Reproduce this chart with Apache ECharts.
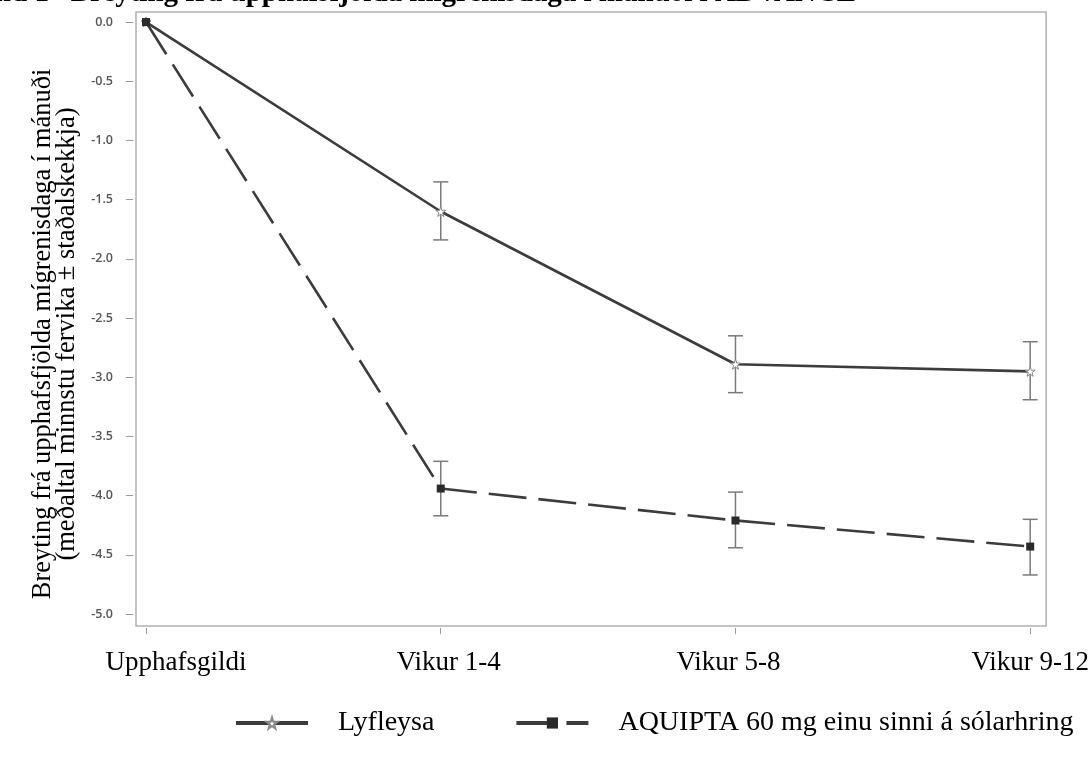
<!DOCTYPE html>
<html>
<head>
<meta charset="utf-8">
<script src="https://cdn.jsdelivr.net/npm/echarts@6/dist/echarts.min.js"></script>
<style>html,body{margin:0;padding:0;background:#fff}#c{width:1092px;height:762px}</style>
</head>
<body>
<div id="c"></div>
<script>
const categories = ['Upphafsgildi', 'Vikur 1-4', 'Vikur 5-8', 'Vikur 9-12'];
const placeboMean = [0.0, -1.60, -2.89, -2.95];
const placeboLow = [null, -1.84, -3.13, -3.19];
const placeboHigh = [null, -1.35, -2.65, -2.70];
const aquiptaMean = [0.0, -3.94, -4.21, -4.43];
const aquiptaLow = [null, -4.17, -4.44, -4.67];
const aquiptaHigh = [null, -3.71, -3.97, -4.20];
const yTicks = [0, -0.5, -1, -1.5, -2, -2.5, -3, -3.5, -4, -4.5, -5];
const seriesNames = ['Lyfleysa', 'AQUIPTA 60 mg einu sinni á sólarhring'];
const titleText = 'Mynd 1   Breyting frá upphafsfjölda mígrenisdaga í mánuði í ADVANCE';

const chart = echarts.init(document.getElementById('c'));
const serif = '"Liberation Serif", "Times New Roman", serif';
const star = 'path://M50,0 L61,35 L98,35 L68,57 L79,91 L50,70 L21,91 L32,57 L2,35 L39,35 Z';

function pts(mean) { return mean.map((v, i) => [i, v]); }
function bars(lo, hi) {
  const out = [];
  lo.forEach((v, i) => { if (v !== null) out.push([i, lo[i], hi[i]]); });
  return out;
}
function errRender(params, api) {
  const x = api.value(0);
  const a = api.coord([x, api.value(1)]);
  const b = api.coord([x, api.value(2)]);
  const w = 7.5;
  const st = { stroke: '#7a7a7a', lineWidth: 1.5 };
  return {
    type: 'group',
    children: [
      { type: 'line', shape: { x1: a[0], y1: a[1], x2: b[0], y2: b[1] }, style: st },
      { type: 'line', shape: { x1: a[0] - w, y1: a[1], x2: a[0] + w, y2: a[1] }, style: st },
      { type: 'line', shape: { x1: b[0] - w, y1: b[1], x2: b[0] + w, y2: b[1] }, style: st }
    ]
  };
}

const labelShift = ['a', 'b', 'c', 'd'];
const lbl = { fontFamily: serif, fontSize: 27, color: '#000' };
const option = {
  backgroundColor: '#fff',
  animation: false,
  graphic: [{
    type: 'text', left: -47, top: -21,
    style: { text: titleText, font: 'bold 29px ' + serif, fill: '#000' }
  }],
  grid: { left: 136, right: 43, top: 12, bottom: 136, show: true, borderColor: '#b0b0b0', borderWidth: 1.5 },
  xAxis: {
    type: 'value', min: -0.034, max: 3.054,
    axisLine: { show: false, onZero: false }, splitLine: { show: false },
    offset: 2,
    axisTick: { show: true, length: 6, customValues: [0, 1, 2, 3], lineStyle: { color: '#999', width: 1 } },
    axisLabel: {
      customValues: [0, 1, 2, 3], margin: 21,
      formatter: function (v) { const i = Math.round(v); return '{' + labelShift[i] + '|' + categories[i] + '}'; },
      rich: {
        a: Object.assign({ padding: [0, 0, 0, 60] }, lbl),
        b: Object.assign({ padding: [0, 0, 0, 16] }, lbl),
        c: Object.assign({ padding: [0, 14, 0, 0] }, lbl),
        d: Object.assign({ padding: [0, 0, 0, 0] }, lbl)
      }
    }
  },
  yAxis: {
    type: 'value', min: -5.101, max: 0.085,
    offset: 3,
    axisLine: { show: false, onZero: false }, splitLine: { show: false },
    axisTick: { show: true, length: 7, customValues: yTicks, lineStyle: { color: '#999', width: 1 } },
    axisLabel: {
      customValues: yTicks, margin: 20,
      formatter: v => v.toFixed(1),
      fontFamily: '"Open Sans", sans-serif', fontWeight: 600, fontSize: 12.5, color: '#555'
    },
    name: 'Breyting frá upphafsfjölda mígrenisdaga í mánuði\n(meðaltal minnstu fervika ± staðalskekkja)',
    nameLocation: 'middle', nameGap: 54,
    nameTextStyle: { fontFamily: serif, fontSize: 26.5, color: '#000', lineHeight: 24, padding: [0, 30, 0, 0] }
  },
  legend: {
    left: 229, top: 704, itemWidth: 72, itemHeight: 14, itemGap: 80,
    data: seriesNames,
    lineStyle: { width: 4 },
    textStyle: { fontFamily: serif, fontSize: 28, color: '#000', padding: [0, 0, 0, 25] }
  },
  series: [
    { type: 'custom', renderItem: errRender, data: bars(placeboLow, placeboHigh), z: 1, silent: true },
    { type: 'custom', renderItem: errRender, data: bars(aquiptaLow, aquiptaHigh), z: 1, silent: true },
    {
      name: seriesNames[0], type: 'line', data: pts(placeboMean), z: 3,
      symbol: star, symbolSize: 10, showAllSymbol: true,
      lineStyle: { color: '#3c3c3c', width: 2.6 },
      itemStyle: { color: '#fff', borderColor: '#888', borderWidth: 1 }
    },
    {
      name: seriesNames[1], type: 'line', data: pts(aquiptaMean), z: 4,
      symbol: 'rect', symbolSize: 8,
      lineStyle: { color: '#3c3c3c', width: 2.6, type: [38, 12] },
      itemStyle: { color: '#2a2a2a', borderWidth: 0 }
    }
  ]
};
chart.setOption(option);
</script>
</body>
</html>
